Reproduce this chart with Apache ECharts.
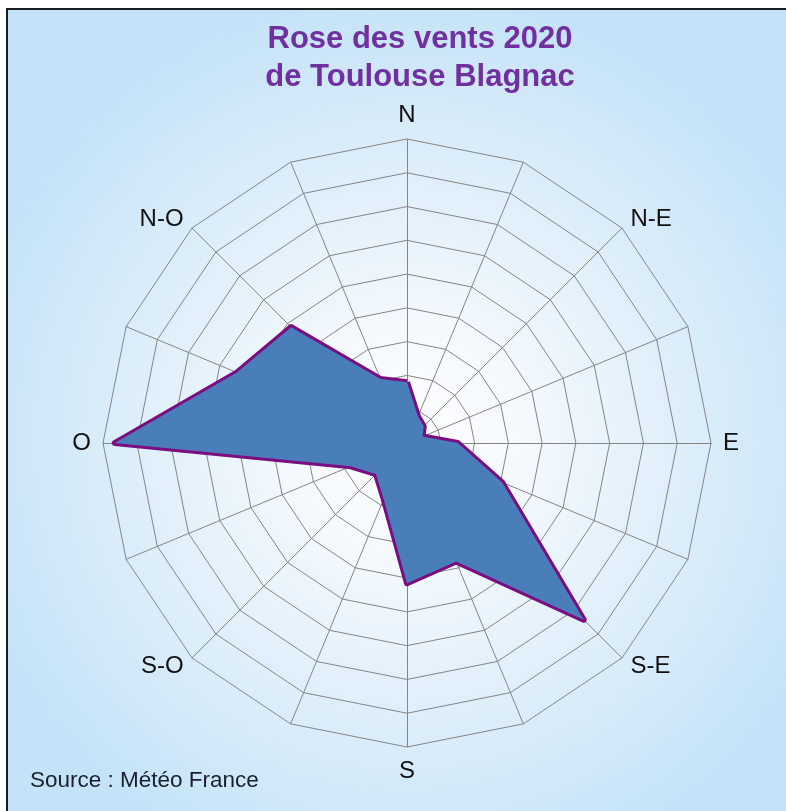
<!DOCTYPE html>
<html>
<head>
<meta charset="utf-8">
<title>Rose des vents 2020</title>
<script src="https://cdn.jsdelivr.net/npm/echarts@6/dist/echarts.min.js"></script>
<style>
  html, body { margin: 0; padding: 0; background: #ffffff; }
  #rose { width: 786px; height: 811px; }
</style>
</head>
<body>
<div id="rose"></div>
<script>
// 16 directions, compass order starting at North, clockwise
var directions = ['N', 'NNE', 'NE', 'ENE', 'E', 'ESE', 'SE', 'SSE', 'S', 'SSO', 'SO', 'OSO', 'O', 'ONO', 'NO', 'NNO'];
var dirLabels = ['N', '', 'N-E', '', 'E', '', 'S-E', '', 'S', '', 'S-O', '', 'O', '', 'N-O', ''];
// frequency (%) per direction
var frequencies = [3.6, 1.7, 1.4, 1.0, 3.0, 6.1, 14.8, 7.6, 8.3, 3.6, 2.6, 3.6, 17.3, 10.9, 9.7, 4.1];
var scaleMax = 18;
var rings = 9;

var chartDom = document.getElementById('rose');
var myChart = echarts.init(chartDom);

// ECharts radar goes counter-clockwise, so walk the list backwards after N
var order = [0];
for (var i = directions.length - 1; i > 0; i--) {
    order.push(i);
}
var indicators = order.map(function (i) {
    return { name: dirLabels[i], max: scaleMax, min: 0 };
});
var values = order.map(function (i) { return frequencies[i]; });

var option = {
    animation: false,
    graphic: [
        {
            type: 'rect',
            z: 0,
            silent: true,
            shape: { x: 7, y: 9, width: 800, height: 820 },
            style: {
                fill: {
                    type: 'radial', x: 0.5, y: 0.53, r: 0.56,
                    colorStops: [
                        { offset: 0, color: '#ffffff' },
                        { offset: 0.3, color: '#f2f8fd' },
                        { offset: 0.75, color: '#d5eaf9' },
                        { offset: 1, color: '#c5e3f8' }
                    ]
                },
                stroke: '#1c1c1c',
                lineWidth: 2
            }
        },
        {
            type: 'text',
            z: 10,
            left: 30,
            top: 769,
            style: {
                text: 'Source : Météo France',
                font: '22.5px "Liberation Sans", Arial, sans-serif',
                fill: '#1a1f2e'
            }
        }
    ],
    title: {
        text: 'Rose des vents 2020\nde Toulouse Blagnac',
        left: 415,
        textAlign: 'center',
        top: 15,
        textStyle: {
            color: '#7030a0',
            fontSize: 31,
            fontWeight: 'bold',
            fontFamily: '"Liberation Sans", Arial, sans-serif',
            lineHeight: 38
        }
    },
    radar: {
        center: [407, 443],
        radius: 304,
        startAngle: 90,
        shape: 'polygon',
        splitNumber: rings,
        nameGap: 12,
        indicator: indicators,
        axisName: {
            color: '#111111',
            fontSize: 24,
            fontFamily: '"Liberation Sans", Arial, sans-serif'
        },
        splitArea: { show: false },
        splitLine: { lineStyle: { color: '#858585', width: 1 } },
        axisLine: { lineStyle: { color: '#858585', width: 1 } }
    },
    series: [
        {
            name: 'Rose des vents',
            type: 'radar',
            symbol: 'none',
            lineStyle: { color: '#7a0d80', width: 6 },
            areaStyle: { color: '#4a7ebb', opacity: 1 },
            data: [{ value: values, name: '2020' }]
        }
    ]
};

option && myChart.setOption(option);
</script>
</body>
</html>
